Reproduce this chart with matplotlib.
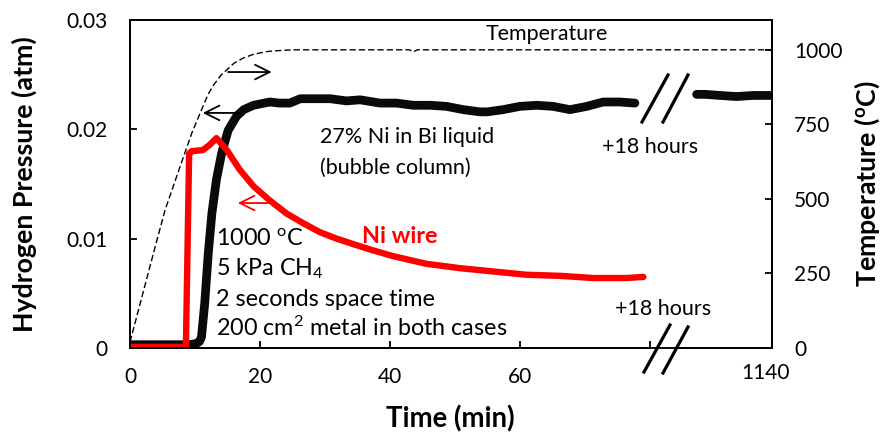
import matplotlib
matplotlib.use("Agg")
import matplotlib.pyplot as plt
from matplotlib.lines import Line2D
import numpy as np

plt.rcParams['font.family'] = ['Lato', 'DejaVu Sans']
plt.rcParams['mathtext.default'] = 'regular'

# ---------------- data ----------------
# plotted time axis (min); post-break points are shown shifted (actual ~1130-1141 min)
BREAK_LABEL = "1140"
BREAK_LABEL_POS = 97.8
BREAK_OFFSET = 1140 - 97.8

temp_t = [0, 2, 4, 5.4, 7.7, 9.5, 10.8, 12, 12.8, 14, 14.9, 16, 17.4, 19, 21, 22.6, 25, 43, 43.6, 44.2, 98.8]
temp_c = [20, 185, 350, 463, 608, 720, 788, 850, 880, 915, 933, 955, 972, 985, 994, 997, 1000, 1000, 993, 1000, 1000]

bubble_t = [0, 3, 6, 9, 10.2, 10.7, 11.0, 11.5, 12.05, 12.6, 13.3, 14.1, 15.1, 16.4, 17.5, 19, 21.5, 23,
            24.6, 26.2, 28.2, 30.8, 33.3, 35.4, 38.5, 41, 43.6, 46.2, 48.7, 51.3, 53.8, 55, 57.4, 60,
            62.6, 65.1, 67.7, 70.3, 72.8, 75.4, 77.7]
bubble_p = [0.0003, 0.0003, 0.0003, 0.0003, 0.0004, 0.0006, 0.0010, 0.0041, 0.0087, 0.0123, 0.0154, 0.0178,
            0.0199, 0.0212, 0.0218, 0.0222, 0.0225, 0.0224, 0.0224, 0.0228, 0.0228, 0.0228, 0.0226, 0.0227,
            0.0224, 0.0224, 0.0222, 0.0222, 0.0221, 0.0218, 0.0216, 0.0216, 0.0218, 0.0221, 0.0222, 0.0221,
            0.0218, 0.0221, 0.0225, 0.0225, 0.0224]
bubble_late_t = [1129.4, 1130.7, 1133.0, 1134.2, 1135.5, 1138.1, 1140.7, 1141.0]
bubble_late_p = [0.0232, 0.0232, 0.0231, 0.02305, 0.0230, 0.0231, 0.0231, 0.0231]

wire_t = [0, 4, 8.6, 9.1, 9.5, 11.2, 12.3, 13.3, 14.9, 16.9, 19, 21.5, 24.1, 26.7, 29.2, 31.8, 34.9,
          37, 40.5, 45.6, 50.8, 55.9, 61, 66.2, 71.3, 76.4, 79]
wire_p = [0.0001, 0.0001, 0.0001, 0.0178, 0.0180, 0.0181, 0.0186, 0.0192, 0.0181, 0.0163, 0.0148, 0.0135,
          0.0123, 0.0114, 0.0106, 0.0100, 0.0094, 0.0090, 0.0084, 0.0077, 0.0073, 0.0070, 0.0067, 0.0066,
          0.0064, 0.0064, 0.0065]

x_ticks = [0, 20, 40, 60, 80]
x_ticklabels = ['0', '20', '40', '60', '']
y_ticks = [0, 0.01, 0.02, 0.03]
y_ticklabels = ['0', '0.01', '0.02', '0.03']
t_ticks = [0, 250, 500, 750, 1000]

# ---------------- figure ----------------
W, H = 883, 432
fig = plt.figure(figsize=(W / 100, H / 100), dpi=100)
L, R, T, B = 130, 772, 20, 348
ax = fig.add_axes([L / W, 1 - B / H, (R - L) / W, (B - T) / H])
ax2 = ax.twinx()

ax.set_xlim(0, 98.8)
ax.set_ylim(0, 0.03)
ax2.set_ylim(0, 1100)

late_x = [t - BREAK_OFFSET for t in bubble_late_t]
ax.plot(bubble_t, bubble_p, color='#0a0a0a', lw=6.3, solid_capstyle='round', solid_joinstyle='round', zorder=3)
ax.plot(late_x, bubble_late_p, color='#0a0a0a', lw=6.3, solid_capstyle='round', solid_joinstyle='round', zorder=3)
ax.plot(wire_t, wire_p, color='#ff0000', lw=4.6, solid_capstyle='round', solid_joinstyle='round', zorder=4)
ax2.plot(temp_t, temp_c, color='black', lw=1.0, linestyle=(0, (4.5, 2.2)))

for a in (ax, ax2):
    for s in a.spines.values():
        s.set_linewidth(1.3)
        s.set_color('black')

ax.set_xticks(x_ticks)
ax.set_xticklabels(x_ticklabels)
ax.set_yticks(y_ticks)
ax.set_yticklabels(y_ticklabels)
ax2.set_yticks(t_ticks)
ax2.set_yticklabels([str(v) for v in t_ticks])

ax.tick_params(axis='x', direction='in', length=5, width=1.3, labelsize=15, pad=14)
ax.tick_params(axis='y', direction='in', length=5, width=1.3, labelsize=15, pad=16)
ax2.tick_params(axis='y', direction='in', length=5, width=1.3, labelsize=15, pad=16)

# axis titles placed at their pixel centres
fig.text(24 / W, 1 - 184 / H, 'Hydrogen Pressure (atm)', fontsize=19.3, fontweight='bold',
         rotation=90, ha='center', va='center')
fig.text(867 / W, 1 - 184 / H, 'Temperature ($^{o}$C)', fontsize=19.3, fontweight='bold',
         rotation=90, ha='center', va='center')
fig.text(450 / W, 1 - 419 / H, 'Time (min)', fontsize=19.8, fontweight='bold', ha='center', va='center')

# ---------------- annotations ----------------
fs = 15.5
fb = 16.8
ax.text(64.2, 0.02817, 'Temperature', fontsize=15.4, ha='center', va='baseline')
ax.text(29.2, 0.01878, '27% Ni in Bi liquid', fontsize=fs, ha='left', va='baseline')
ax.text(29.2, 0.01592, '(bubble column)', fontsize=fs, ha='left', va='baseline')
ax.text(80.0, 0.01781, '+18 hours', fontsize=fs, ha='center', va='baseline')
ax.text(82.0, 0.00302, '+18 hours', fontsize=fs, ha='center', va='baseline')
ax.text(41.5, 0.00958, 'Ni wire', fontsize=16.8, ha='center', va='baseline', color='#ff0000', fontweight='bold')
ax.text(13.2, 0.00942, '1000 $^{o}$C', fontsize=fb, ha='left', va='baseline')
ax.text(13.2, 0.00668, '5 kPa CH$_{4}$', fontsize=fb, ha='left', va='baseline')
ax.text(13.2, 0.00384, '2 seconds space time', fontsize=fb, ha='left', va='baseline')
ax.text(13.2, 0.00110, '200 cm$^{2}$ metal in both cases', fontsize=fb, ha='left', va='baseline')

ax.text(BREAK_LABEL_POS, -0.0028, BREAK_LABEL, fontsize=15, ha='center', va='baseline', clip_on=False)

arrow_k = dict(arrowstyle='->,head_length=0.7,head_width=0.35', lw=1.3, mutation_scale=15,
               shrinkA=0, shrinkB=0)
ax.annotate('', xy=(21.8, 0.02524), xytext=(15.1, 0.02524),
            arrowprops=dict(color='black', **arrow_k))
ax.annotate('', xy=(11.2, 0.0215), xytext=(16.9, 0.0215),
            arrowprops=dict(color='black', **arrow_k))
ax.annotate('', xy=(16.6, 0.01326), xytext=(21.5, 0.01326),
            arrowprops=dict(color='#ff0000', **arrow_k))

# axis break marks
def fx(px):
    return (px - L) / (R - L)

def fy(py):
    return (B - py) / (B - T)

ax.add_line(Line2D([fx(649), fx(673)], [0, 0], transform=ax.transAxes, color='#b0b0b0', lw=1.3,
                   clip_on=False, zorder=5))
for (x0, y0, x1, y1) in [(644, 372, 670, 325), (663, 373, 688, 327),
                         (642, 122, 668, 75), (663, 122, 688, 75)]:
    ax.add_line(Line2D([fx(x0), fx(x1)], [fy(y0), fy(y1)], transform=ax.transAxes, color='black',
                       lw=2.3, clip_on=False, zorder=6))

fig.savefig('out.png', dpi=100)
